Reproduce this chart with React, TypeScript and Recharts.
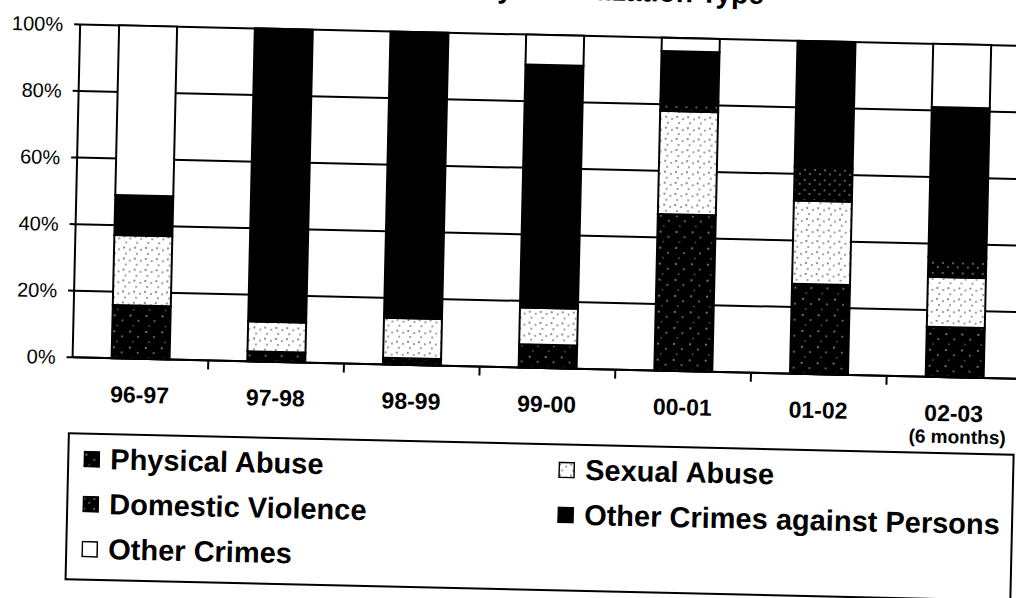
import React from 'react';
import { BarChart, Bar, XAxis, YAxis, CartesianGrid } from 'recharts';

// values (percent of each year's cases)
const years = ['96-97', '97-98', '98-99', '99-00', '00-01', '01-02', '02-03'];
const yearNotes = ['', '', '', '', '', '', '(6 months)'];
const physicalAbuse = [16, 3, 2, 7, 47, 27, 15];
const sexualAbuse = [21, 9, 12, 11, 31, 25, 15];
const domesticViolence = [0, 0, 0, 0, 3, 10, 6];
const otherPersons = [12, 88, 86, 73, 15, 38, 45];
const otherCrimes = [51, 0, 0, 9, 4, 0, 19];
const yTicks = [0, 20, 40, 60, 80, 100];

const series = [
  { key: 'pa', name: 'Physical Abuse', values: physicalAbuse, fill: 'url(#stippleDark)' },
  { key: 'sa', name: 'Sexual Abuse', values: sexualAbuse, fill: 'url(#stippleLight)' },
  { key: 'dv', name: 'Domestic Violence', values: domesticViolence, fill: 'url(#stippleDense)' },
  { key: 'op', name: 'Other Crimes against Persons', values: otherPersons, fill: '#000' },
  { key: 'oc', name: 'Other Crimes', values: otherCrimes, fill: '#fff' },
];

const data = years.map((year, i) => {
  const row: Record<string, string | number> = { year };
  series.forEach((s) => {
    row[s.key] = s.values[i];
  });
  return row;
});

const FONT = '"Liberation Sans", Arial, sans-serif';

const YearTick = (props: any) => {
  const { x, y, payload, index } = props;
  const half = payload.offset ?? 0;
  const note = yearNotes[index];
  return (
    <g>
      <line x1={x + half} y1={y} x2={x + half} y2={y + 9} stroke="#000" strokeWidth={2} />
      <text x={x} y={y + 44} textAnchor="middle" fontSize={23} fontWeight="bold" fill="#000" fontFamily={FONT}>
        {payload.value}
      </text>
      {note ? (
        <text x={x + 4} y={y + 66} textAnchor="middle" fontSize={19} fontWeight="bold" fill="#000" fontFamily={FONT}>
          {note}
        </text>
      ) : null}
    </g>
  );
};

const Swatch = ({ fill }: { fill: string }) => (
  <svg width={17} height={17} style={{ flex: 'none' }}>
    <rect x={1} y={1} width={15} height={15} fill={fill} stroke="#000" strokeWidth={1.5} />
  </svg>
);

export default function App() {
  return (
    <div
      style={{
        position: 'fixed',
        left: 0,
        top: 0,
        width: 1016,
        height: 598,
        overflow: 'hidden',
        background: '#fff',
      }}
    >
      <div
        style={{
          position: 'relative',
          width: 1040,
          height: 598,
          transform: 'rotate(1.3deg)',
          transformOrigin: '500px 300px',
          fontFamily: FONT,
        }}
      >
        {/* title is mostly off the top edge in the scan */}
        <div
          style={{
            position: 'absolute',
            top: -25,
            right: 1040 - 757,
            fontSize: 28,
            lineHeight: '28px',
            fontWeight: 'bold',
            whiteSpace: 'nowrap',
            color: '#000',
          }}
        >
          Victims Served by Victimization Type
        </div>

        <BarChart
          width={1040}
          height={440}
          data={data}
          margin={{ top: 34, right: 16, left: 0, bottom: 3 }}
          style={{ position: 'absolute', left: 0, top: 0 }}
        >
          <defs>
            <pattern id="stippleDark" width="16" height="16" patternUnits="userSpaceOnUse">
              <rect width="16" height="16" fill="#000" />
              <circle cx="3" cy="4" r="0.8" fill="#fff" />
              <circle cx="11" cy="9" r="0.7" fill="#fff" />
              <circle cx="6" cy="14" r="0.6" fill="#fff" />
            </pattern>
            <pattern id="stippleDense" width="10" height="10" patternUnits="userSpaceOnUse">
              <rect width="10" height="10" fill="#000" />
              <circle cx="2" cy="3" r="0.7" fill="#fff" />
              <circle cx="7" cy="7" r="0.7" fill="#fff" />
            </pattern>
            <pattern id="stippleLight" width="11" height="11" patternUnits="userSpaceOnUse">
              <rect width="11" height="11" fill="#fff" />
              <circle cx="2" cy="3" r="0.8" fill="#000" />
              <circle cx="8" cy="5" r="0.7" fill="#000" />
              <circle cx="4" cy="9" r="0.7" fill="#000" />
            </pattern>
          </defs>
          <CartesianGrid vertical={false} stroke="#000" strokeWidth={2} />
          <XAxis
            dataKey="year"
            axisLine={{ stroke: '#000', strokeWidth: 2 }}
            tickLine={false}
            tickSize={0}
            tickMargin={0}
            height={70}
            interval={0}
            tick={<YearTick />}
          />
          <YAxis
            domain={[0, 100]}
            ticks={yTicks}
            width={74}
            tickFormatter={(v: number) => `${v}%`}
            axisLine={{ stroke: '#000', strokeWidth: 2 }}
            tickLine={{ stroke: '#000', strokeWidth: 2 }}
            tickSize={6}
            tickMargin={11}
            tick={{ fontSize: 20, fill: '#000', fontFamily: FONT }}
          />
          {series.map((s) => (
            <Bar
              key={s.key}
              dataKey={s.key}
              name={s.name}
              stackId="a"
              fill={s.fill}
              stroke="#000"
              strokeWidth={2}
              barSize={58}
              isAnimationActive={false}
            />
          ))}
        </BarChart>

        <div
          style={{
            position: 'absolute',
            left: 71,
            top: 442,
            width: 947,
            height: 148,
            border: '2px solid #000',
            boxSizing: 'border-box',
            display: 'grid',
            gridTemplateColumns: '475px auto',
            gridAutoRows: '45px',
            paddingLeft: 14,
            paddingTop: 2,
          }}
        >
          {series.map((s) => (
            <div
              key={s.key}
              style={{ display: 'flex', alignItems: 'center', gap: 10, fontSize: 29, fontWeight: 'bold', color: '#000', whiteSpace: 'nowrap' }}
            >
              <Swatch fill={s.fill} />
              <span>{s.name}</span>
            </div>
          ))}
        </div>
      </div>
    </div>
  );
}
